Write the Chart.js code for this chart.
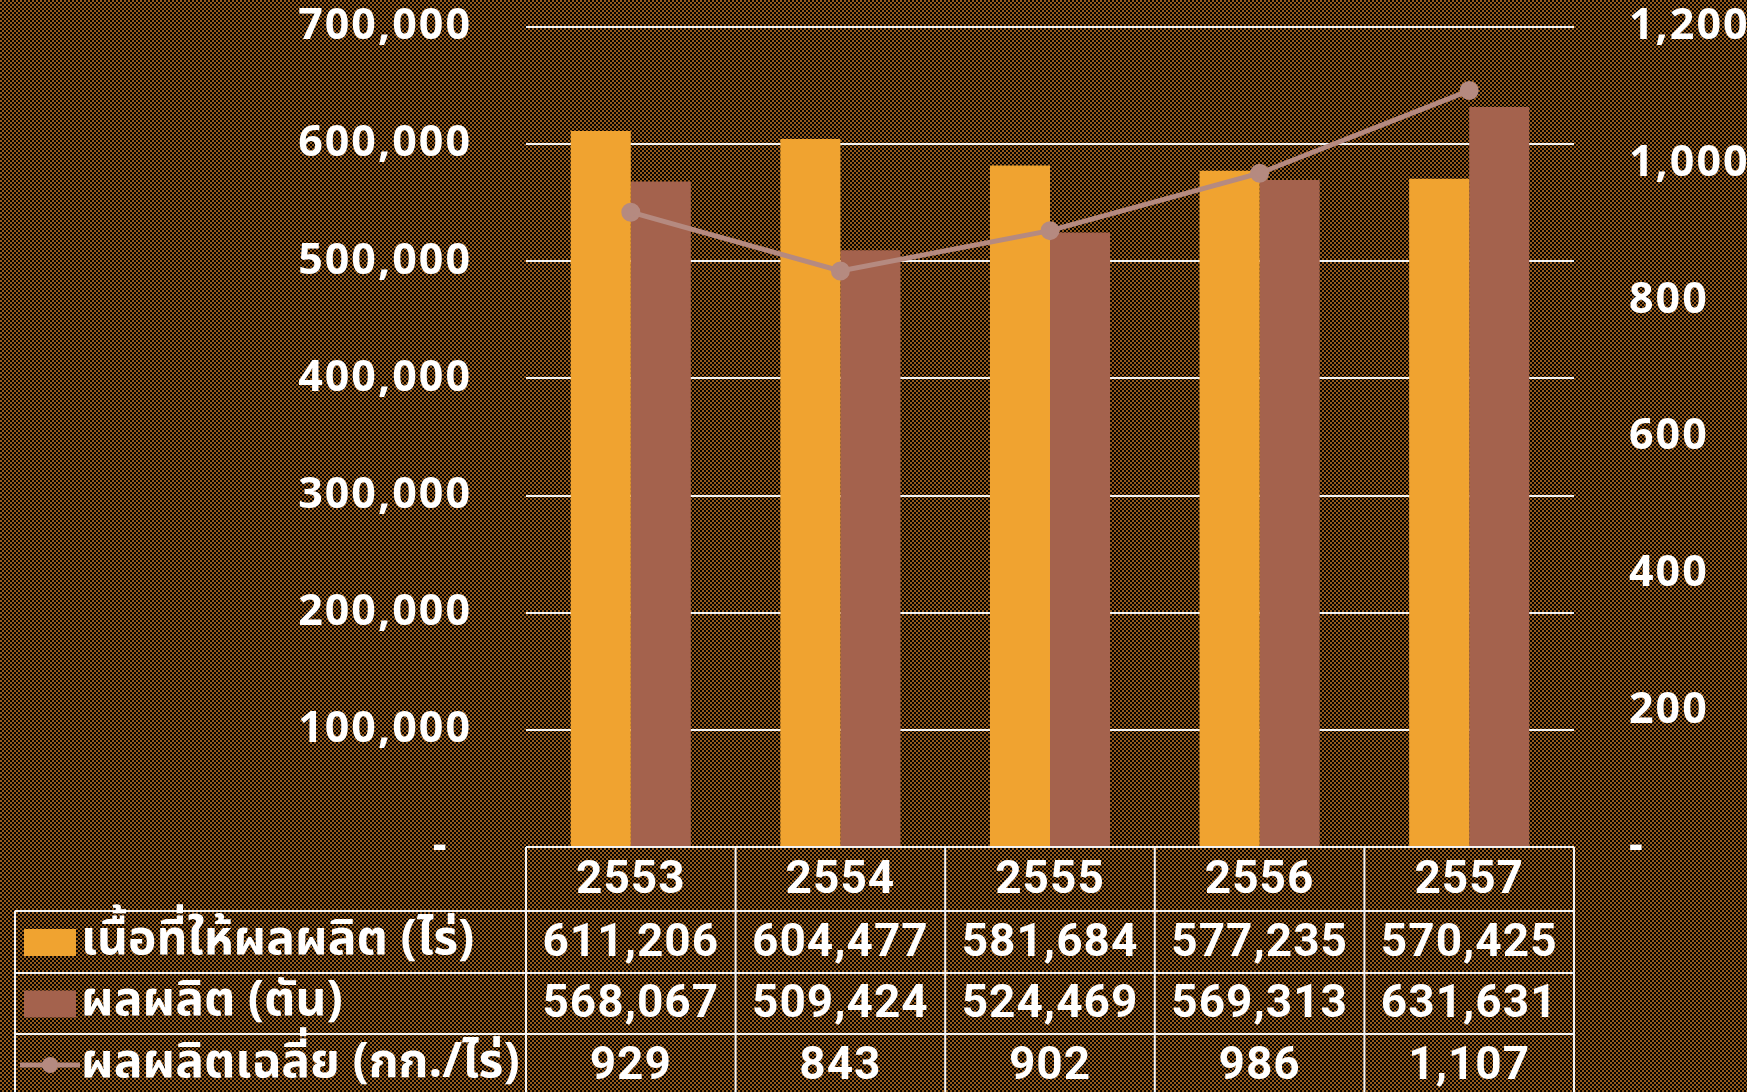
<!DOCTYPE html>
<html lang="th">
<head>
<meta charset="utf-8">
<title>เนื้อที่ให้ผลผลิต ผลผลิต และผลผลิตเฉลี่ย 2553-2557</title>
<script src="https://cdn.jsdelivr.net/npm/chart.js@4.4.1/dist/chart.umd.min.js"></script>
<style>
  html, body { margin: 0; padding: 0; background: #000; overflow: hidden; }
  #chart { display: block; }
</style>
</head>
<body>
<canvas id="chart" width="1747" height="1092"></canvas>
<script>
// Years (B.E.) and the three series shown in the chart and the table under it
const years = ['2553', '2554', '2555', '2556', '2557'];
const areaRai = [611206, 604477, 581684, 577235, 570425];
const outputTon = [568067, 509424, 524469, 569313, 631631];
const yieldKgPerRai = [929, 843, 902, 986, 1107];
const seriesLabels = ['เนื้อที่ให้ผลผลิต (ไร่)', 'ผลผลิต (ตัน)', 'ผลผลิตเฉลี่ย (กก./ไร่)'];

const COLORS = { area: '#f0a330', output: '#a4624d', yield: '#b58a80', line: '#f4f4f4' };
const NUM_FONT = '"Noto Sans", "DejaVu Sans", sans-serif';
const TABLE_FONT = 'Roboto, "Noto Sans", sans-serif';
const THAI_FONT = '"Noto Sans Thai", "Noto Sans", "DejaVu Sans", sans-serif';
const fmt = v => v.toLocaleString('en-US');

// 2px black / brown checker used as the page backdrop
function makePattern(ctx) {
    const tile = document.createElement('canvas');
    tile.width = 4;
    tile.height = 4;
    const t = tile.getContext('2d');
    t.fillStyle = '#030303';
    t.fillRect(0, 0, 4, 4);
    t.fillStyle = '#955a1c';
    t.fillRect(0, 0, 2, 2);
    t.fillRect(2, 2, 2, 2);
    return ctx.createPattern(tile, 'repeat');
}

const backdrop = {
    id: 'backdrop',
    beforeDraw(chart) {
        const ctx = chart.ctx;
        ctx.save();
        ctx.fillStyle = makePattern(ctx);
        ctx.fillRect(0, 0, chart.width, chart.height);
        ctx.restore();
        ctx.letterSpacing = '2px';
    }
};

// Data table with legend keys under the plot, columns follow the x scale
const dataTable = {
    id: 'dataTable',
    afterDraw(chart) {
        const { ctx, chartArea, scales } = chart;
        const x = scales.x;
        const left = chartArea.left;
        const right = chartArea.right;
        const colW = (right - left) / years.length;
        const rows = [chartArea.bottom, 911, 973, 1034, 1096];
        const legendLeft = 15;

        ctx.save();
        ctx.strokeStyle = COLORS.line;
        ctx.lineWidth = 2;
        ctx.beginPath();
        ctx.moveTo(left, rows[0]);
        ctx.lineTo(right, rows[0]);
        for (let r = 1; r < rows.length; r++) {
            ctx.moveTo(legendLeft, rows[r]);
            ctx.lineTo(right, rows[r]);
        }
        for (let c = 0; c <= years.length; c++) {
            const xx = left + c * colW;
            ctx.moveTo(xx, rows[0]);
            ctx.lineTo(xx, rows[4]);
        }
        ctx.moveTo(legendLeft, rows[1]);
        ctx.lineTo(legendLeft, rows[4]);
        ctx.stroke();

        // cell values
        ctx.fillStyle = '#fff';
        ctx.textAlign = 'center';
        ctx.textBaseline = 'middle';
        ctx.letterSpacing = '1px';
        ctx.font = 'bold 46px ' + TABLE_FONT;
        const rowData = [years, areaRai.map(fmt), outputTon.map(fmt), yieldKgPerRai.map(fmt)];
        rowData.forEach((vals, r) => {
            const cy = (rows[r] + rows[r + 1]) / 2 + 2;
            vals.forEach((v, i) => ctx.fillText(v, x.getPixelForValue(i), cy));
        });

        // legend keys
        const mid = r => (rows[r] + rows[r + 1]) / 2;
        ctx.fillStyle = COLORS.area;
        ctx.fillRect(24, mid(1) - 13, 52, 27);
        ctx.fillStyle = COLORS.output;
        ctx.fillRect(24, mid(2) - 13, 52, 27);
        ctx.strokeStyle = COLORS.yield;
        ctx.lineWidth = 5;
        ctx.beginPath();
        ctx.moveTo(20, mid(3));
        ctx.lineTo(80, mid(3));
        ctx.stroke();
        ctx.fillStyle = COLORS.yield;
        ctx.beginPath();
        ctx.arc(50, mid(3), 8, 0, Math.PI * 2);
        ctx.fill();

        ctx.fillStyle = '#fff';
        ctx.textAlign = 'left';
        ctx.letterSpacing = '0px';
        ctx.font = 'bold 48px ' + THAI_FONT;
        seriesLabels.forEach((label, i) => ctx.fillText(label, 81, mid(i + 1) + 2));
        ctx.restore();
    }
};

const tickFont = { family: NUM_FONT, size: 43, weight: 'bold' };

// fixed axis widths; keep only half a label of room above and below the plot
function fitAxis(width) {
    return scale => {
        scale.width = width;
        scale.paddingTop = 27;
        scale.paddingBottom = 0;
    };
}

new Chart(document.getElementById('chart'), {
    type: 'bar',
    data: {
        labels: years,
        datasets: [
            {
                label: seriesLabels[2],
                type: 'line',
                data: yieldKgPerRai,
                yAxisID: 'y1',
                borderColor: COLORS.yield,
                backgroundColor: COLORS.yield,
                borderWidth: 5,
                pointRadius: 7,
                pointHoverRadius: 7,
                tension: 0,
                order: 0
            },
            {
                label: seriesLabels[0],
                data: areaRai,
                yAxisID: 'y',
                backgroundColor: COLORS.area,
                categoryPercentage: 0.573,
                barPercentage: 1,
                order: 1
            },
            {
                label: seriesLabels[1],
                data: outputTon,
                yAxisID: 'y',
                backgroundColor: COLORS.output,
                categoryPercentage: 0.573,
                barPercentage: 1,
                order: 1
            }
        ]
    },
    options: {
        responsive: false,
        animation: false,
        events: [],
        layout: { padding: { top: 0, bottom: 245, left: 0, right: 0 } },
        plugins: {
            legend: { display: false },
            tooltip: { enabled: false }
        },
        scales: {
            x: { display: false },
            y: {
                position: 'left',
                min: 0,
                max: 700000,
                ticks: {
                    stepSize: 100000,
                    color: '#fff',
                    padding: 54,
                    font: tickFont,
                    callback: v => (v === 0 ? '-\u2002' : fmt(v))
                },
                grid: { color: COLORS.line, lineWidth: 2, drawTicks: false },
                border: { display: false },
                afterFit: fitAxis(526)
            },
            y1: {
                position: 'right',
                min: 0,
                max: 1200,
                ticks: {
                    stepSize: 200,
                    color: '#fff',
                    padding: 55,
                    font: tickFont,
                    callback: v => (v === 0 ? '-' : fmt(v))
                },
                grid: { drawOnChartArea: false, drawTicks: false },
                border: { display: false },
                afterFit: fitAxis(173)
            }
        }
    },
    plugins: [backdrop, dataTable]
});
</script>
</body>
</html>
